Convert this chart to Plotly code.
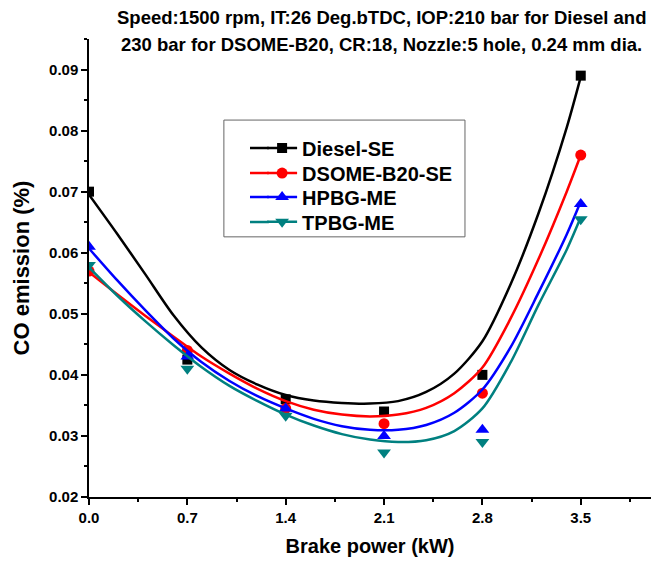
import plotly.graph_objects as go

# Measured points
power = [0.0, 0.7, 1.4, 2.1, 2.8, 3.5]
diesel = [0.070, 0.0425, 0.036, 0.034, 0.040, 0.089]
dsome = [0.057, 0.044, 0.0345, 0.032, 0.037, 0.076]
hpbg = [0.061, 0.043, 0.0345, 0.030, 0.031, 0.068]
tpbg = [0.058, 0.041, 0.0333, 0.0273, 0.029, 0.0655]

# Fitted smooth curves
fit_x = [0.0, 0.2, 0.4, 0.6, 0.8, 1.0, 1.2, 1.4, 1.6, 1.8, 2.0, 2.2, 2.4, 2.6, 2.8, 3.0, 3.2, 3.4, 3.5]
diesel_fit = [0.0695, 0.0631, 0.0565, 0.0498, 0.0445, 0.0408, 0.0384, 0.0367, 0.0358, 0.0354, 0.0353,
              0.0357, 0.0372, 0.0402, 0.0455, 0.0548, 0.0665, 0.0805, 0.0888]
dsome_fit = [0.0568, 0.0532, 0.0497, 0.0463, 0.0430, 0.0402, 0.0377, 0.0357, 0.0343, 0.0335, 0.0332,
             0.0335, 0.0346, 0.0370, 0.0412, 0.0492, 0.0590, 0.0700, 0.0760]
hpbg_fit = [0.0607, 0.0555, 0.0506, 0.0460, 0.0421, 0.0390, 0.0365, 0.0345, 0.0328, 0.0316, 0.0310,
            0.0310, 0.0318, 0.0338, 0.0376, 0.0445, 0.0535, 0.0630, 0.0684]
tpbg_fit = [0.0576, 0.0530, 0.0488, 0.0449, 0.0413, 0.0382, 0.0357, 0.0335, 0.0317, 0.0303, 0.0294,
            0.0290, 0.0293, 0.0308, 0.0345, 0.0420, 0.0515, 0.0605, 0.0658]

names = ["Diesel-SE", "DSOME-B20-SE", "HPBG-ME", "TPBG-ME"]
colors = ["#000000", "#FF0000", "#0000FF", "#008080"]
symbols = ["square", "circle", "triangle-up", "triangle-down"]
msizes = [10, 11, 12, 12]
pts = [diesel, dsome, hpbg, tpbg]
fits = [diesel_fit, dsome_fit, hpbg_fit, tpbg_fit]
legend_ids = ["legend", "legend2", "legend3", "legend4"]
legend_tops = [0.8044, 0.7498, 0.6974, 0.6433]
legend_mids = [0.7620, 0.7074, 0.6550, 0.6004]

title_line1 = "Speed:1500 rpm, IT:26 Deg.bTDC, IOP:210 bar for Diesel and"
title_line2 = "230 bar for DSOME-B20, CR:18, Nozzle:5 hole, 0.24 mm dia."

font_family = "Arial, Liberation Sans, sans-serif"

fig = go.Figure()
for n, c, s, ms, p, f, lid in zip(names, colors, symbols, msizes, pts, fits, legend_ids):
    fig.add_trace(go.Scatter(x=fit_x, y=f, mode="lines",
                             line=dict(color=c, width=2.5, shape="spline", smoothing=0.8),
                             showlegend=False, hoverinfo="skip"))
    fig.add_trace(go.Scatter(x=power, y=p, mode="markers", marker=dict(color=c, symbol=s, size=ms),
                             showlegend=False))
    fig.add_trace(go.Scatter(x=[None], y=[None], mode="lines+markers", name=n, legend=lid,
                             line=dict(color=c, width=2.5), marker=dict(color=c, symbol=s, size=ms)))

legend_layout = {}
shapes = [dict(type="rect", xref="paper", yref="paper", x0=0.240, x1=0.669, y0=0.568, y1=0.823,
               line=dict(color="#666666", width=1), fillcolor="rgba(0,0,0,0)", layer="below")]
for lid, top, mid, c in zip(legend_ids, legend_tops, legend_mids, colors):
    legend_layout[lid] = dict(x=0.308, y=top, xanchor="left", yanchor="top",
                              borderwidth=0, bgcolor="rgba(0,0,0,0)",
                              font=dict(size=20, family=font_family, color="black", weight="bold"))
    # lengthen the legend key line to the left, as in the original
    shapes.append(dict(type="line", xref="paper", yref="paper", x0=0.2865, x1=0.3200, y0=mid, y1=mid,
                       line=dict(color=c, width=2.5), layer="above"))

tick_font = dict(family=font_family, size=15, color="black")
fig.update_layout(
    width=662, height=562,
    margin=dict(l=81, r=19, t=31, b=73),
    paper_bgcolor="white", plot_bgcolor="white",
    font=dict(family=font_family, color="black"),
    showlegend=True,
    shapes=shapes,
    xaxis=dict(range=[0, 4.0], tickvals=power,
               ticktext=["<b>0.0</b>", "<b>0.7</b>", "<b>1.4</b>", "<b>2.1</b>", "<b>2.8</b>", "<b>3.5</b>"],
               ticks="outside", ticklen=6, tickwidth=1.5, tickcolor="black",
               minor=dict(tickvals=[0.35, 1.05, 1.75, 2.45, 3.15, 3.85], ticks="outside", ticklen=3,
                          tickwidth=1.5, tickcolor="black"),
               showline=True, linecolor="black", linewidth=1.5, showgrid=False, zeroline=False,
               tickfont=tick_font,
               title=dict(text="<b>Brake power (kW)</b>", font=dict(size=20, color="black"), standoff=14)),
    yaxis=dict(range=[0.02, 0.095], tickvals=[0.02, 0.03, 0.04, 0.05, 0.06, 0.07, 0.08, 0.09],
               ticktext=["<b>0.02</b>", "<b>0.03</b>", "<b>0.04</b>", "<b>0.05</b>", "<b>0.06</b>",
                         "<b>0.07</b>", "<b>0.08</b>", "<b>0.09</b>"],
               ticks="outside", ticklen=6, tickwidth=1.5, tickcolor="black",
               minor=dict(tickvals=[0.025, 0.035, 0.045, 0.055, 0.065, 0.075, 0.085, 0.095],
                          ticks="outside", ticklen=3, tickwidth=1.5, tickcolor="black"),
               showline=True, linecolor="black", linewidth=1.5, showgrid=False, zeroline=False,
               tickfont=tick_font,
               title=dict(text="<b>CO emission (%)</b>", font=dict(size=22, color="black"), standoff=13)),
    annotations=[
        dict(text="<b>" + title_line1 + "</b>", xref="paper", yref="paper", x=0.521, y=1.048,
             xanchor="center", yanchor="middle", showarrow=False, font=dict(size=18.5, color="black")),
        dict(text="<b>" + title_line2 + "</b>", xref="paper", yref="paper", x=0.521, y=0.989,
             xanchor="center", yanchor="middle", showarrow=False, font=dict(size=18.5, color="black")),
    ],
    **legend_layout,
)
fig.write_html("out.html")
